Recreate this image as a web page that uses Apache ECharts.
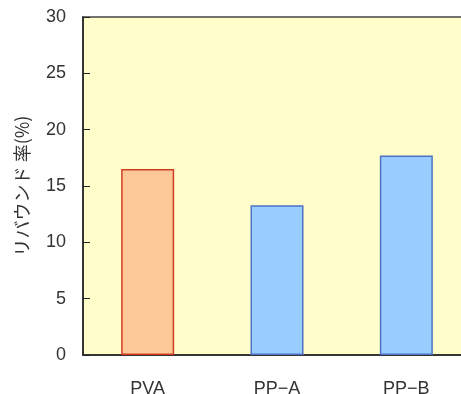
<!DOCTYPE html>
<html>
<head>
<meta charset="utf-8">
<script src="https://cdn.jsdelivr.net/npm/echarts@6/dist/echarts.min.js"></script>
<style>
  html, body { margin: 0; padding: 0; background: #ffffff; }
  #chart { width: 461px; height: 394px; }
</style>
</head>
<body>
<div id="chart"></div>
<script>
// Rebound rate per material
const categories = ['PVA', 'PP\u2212A', 'PP\u2212B'];
const reboundRate = [16.5, 13.3, 17.7];
const yTicks = { min: 0, max: 30, interval: 5 };

const barStyles = [
  { color: '#FCC898', borderColor: '#D33A22' },
  { color: '#99CCFF', borderColor: '#4F72C8' },
  { color: '#99CCFF', borderColor: '#4F72C8' }
];

const chart = echarts.init(document.getElementById('chart'), null, { renderer: 'canvas' });

chart.setOption({
  animation: false,
  backgroundColor: '#ffffff',
  grid: {
    left: 83, top: 17, width: 388, height: 338,
    outerBoundsMode: 'none',
    containLabel: false,
    show: true,
    backgroundColor: '#FFFDCA',
    borderColor: '#444444',
    borderWidth: 1.5
  },
  xAxis: {
    type: 'category',
    data: categories,
    axisLine: { lineStyle: { color: '#222222', width: 1.5 } },
    axisTick: { inside: true, length: 6, lineStyle: { color: '#222222' } },
    axisLabel: {
      margin: 25, color: '#333333', fontSize: 18,
      fontFamily: '"Liberation Sans", Arial, sans-serif'
    }
  },
  yAxis: {
    type: 'value',
    min: yTicks.min, max: yTicks.max, interval: yTicks.interval,
    name: 'リバウンド 率(%)',
    nameLocation: 'middle',
    nameGap: 52,
    nameTextStyle: {
      color: '#333333', fontSize: 18,
      fontFamily: '"Noto Sans CJK JP", sans-serif'
    },
    splitLine: { show: false },
    axisLine: { show: true, lineStyle: { color: '#222222', width: 1.5 } },
    axisTick: { show: true, inside: true, length: 7, lineStyle: { color: '#222222' } },
    axisLabel: {
      margin: 17, color: '#333333', fontSize: 18,
      fontFamily: '"Liberation Sans", Arial, sans-serif'
    }
  },
  series: [{
    type: 'bar',
    barWidth: 53,
    data: reboundRate.map((v, i) => ({
      value: v,
      itemStyle: { color: barStyles[i].color, borderColor: barStyles[i].borderColor, borderWidth: 1.5 }
    }))
  }]
});
</script>
</body>
</html>
